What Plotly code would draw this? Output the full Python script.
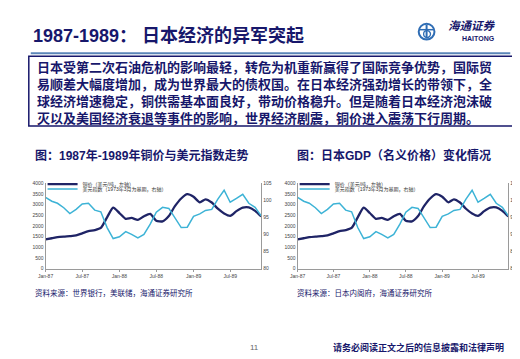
import plotly.graph_objects as go

W, H = 520, 359

months = ["1987-01","1987-02","1987-03","1987-04","1987-05","1987-06","1987-07","1987-08","1987-09","1987-10","1987-11","1987-12",
          "1988-01","1988-02","1988-03","1988-04","1988-05","1988-06","1988-07","1988-08","1988-09","1988-10","1988-11","1988-12",
          "1989-01","1989-02","1989-03","1989-04","1989-05","1989-06","1989-07","1989-08","1989-09","1989-10","1989-11","1989-12"]

copper_price = [1370, 1420, 1470, 1500, 1520, 1550, 1650, 1750, 1800, 1900, 2400, 2850,
                2600, 2330, 2370, 2280, 2450, 2560, 2240, 2210, 2460, 2920, 3280, 3480,
                3360, 3100, 3240, 3090, 2800, 2580, 2470, 2690, 2850, 2860, 2700, 2440]

dollar_index = [100.8, 99.7, 99.1, 97.8, 96.1, 97.3, 98.9, 99.1, 97.1, 96.6, 92.0, 88.8,
                89.3, 90.8, 90.0, 89.0, 90.0, 93.0, 96.5, 97.9, 97.6, 94.7, 92.0, 92.1,
                95.3, 96.0, 97.0, 97.3, 100.3, 102.9, 99.4, 100.5, 101.7, 99.1, 97.9, 95.4]

name_copper = "铜价（美元/吨，左轴）"
name_dollar = "美元指数（1973年3月为基期，右轴）"

left_ticks = [0, 500, 1000, 1500, 2000, 2500, 3000, 3500, 4000]
right_ticks = [80, 85, 90, 95, 100, 105]
x_ticks = ["1987-01", "1987-07", "1988-01", "1988-07", "1989-01", "1989-07"]
x_ticklabels = ["Jan-87", "Jul-87", "Jan-88", "Jul-88", "Jan-89", "Jul-89"]

title = "1987-1989： 日本经济的异军突起"
body_lines = [
    "日本受第二次石油危机的影响最轻，转危为机重新赢得了国际竞争优势，国际贸",
    "易顺差大幅度增加，成为世界最大的债权国。在日本经济强劲增长的带领下，全",
    "球经济增速稳定，铜供需基本面良好，带动价格稳升。但是随着日本经济泡沫破",
    "灭以及美国经济衰退等事件的影响，世界经济剧震，铜价进入震荡下行周期。",
]
chart_titles = ["图：1987年-1989年铜价与美元指数走势", "图：日本GDP（名义价格）变化情况"]
sources = ["资料来源：世界银行，美联储，海通证券研究所", "资料来源：日本内阁府，海通证券研究所"]
footer = "请务必阅读正文之后的信息披露和法律声明"
page_no = "11"

NAVY = "#17176b"
C_COPPER = "#1f2466"
C_DOLLAR = "#3db3d6"
FONT = "Liberation Sans, Noto Sans CJK SC, sans-serif"
CJK = "Noto Sans CJK SC, sans-serif"

def px(x):
    return x / W

def py(y):
    return 1 - y / H

fig = go.Figure()

panels = [("x", "y", "y2", 30, 249, "legend", "legend2"),
          ("x2", "y3", "y4", 286, 500, "legend3", "legend4")]

for xa, yl, yr, l, r, lg1, lg2 in panels:
    fig.add_trace(go.Scatter(x=months, y=copper_price, mode="lines", name=name_copper,
                             line=dict(color=C_COPPER, width=2.3, shape="spline", smoothing=0.6),
                             xaxis=xa, yaxis=yl, legend=lg1))
    fig.add_trace(go.Scatter(x=months, y=dollar_index, mode="lines", name=name_dollar,
                             line=dict(color=C_DOLLAR, width=1.5),
                             xaxis=xa, yaxis=yr, legend=lg2))

top, bot = 175, 262
axis_common = dict(showgrid=False, zeroline=False, showline=True, linecolor="#9a9a9a", linewidth=1,
                   ticks="outside", ticklen=2, tickcolor="#9a9a9a",
                   tickfont=dict(size=5, color="#444", family=FONT))

layout_axes = {}
for xa, yl, yr, l, r, lg1, lg2 in panels:
    xkey = "xaxis" if xa == "x" else "xaxis2"
    ylkey = "yaxis" if yl == "y" else "yaxis" + yl[1:]
    yrkey = "yaxis" + yr[1:]
    layout_axes[xkey] = dict(axis_common, domain=[px(l), px(r)], anchor=yl, type="date",
                             range=["1987-01-01", "1989-12-01"],
                             tickvals=x_ticks, ticktext=x_ticklabels)
    layout_axes[ylkey] = dict(axis_common, domain=[py(bot), py(top)], anchor=xa, range=[0, 4000],
                              tickvals=left_ticks, ticklen=0)
    layout_axes[yrkey] = dict(axis_common, domain=[py(bot), py(top)], anchor=xa, overlaying=yl,
                              side="right", range=[80, 105], tickvals=right_ticks, ticklen=0)

fig.update_layout(**layout_axes)

legend_pos = {"legend": (27, 176), "legend2": (27, 181), "legend3": (283, 176), "legend4": (283, 181)}
for k, (lx, ly) in legend_pos.items():
    fig.update_layout(**{k: dict(x=px(lx), y=py(ly), xanchor="left", yanchor="middle",
                                 bgcolor="rgba(0,0,0,0)", borderwidth=0,
                                 font=dict(size=5, color="#333", family=FONT),
                                 itemwidth=30, tracegroupgap=0)})

shapes = []
annotations = []

annotations.append(dict(text="<b>" + title + "</b>", x=px(15), y=py(25), xref="paper", yref="paper",
                        xanchor="left", yanchor="middle", showarrow=False,
                        font=dict(size=18, color=NAVY, family=FONT)))
shapes.append(dict(type="line", xref="paper", yref="paper", x0=px(15), x1=px(502), y0=py(43), y1=py(43),
                   line=dict(color="#5b86b8", width=2)))

# logo
LB = "#2f6db4"
shapes.append(dict(type="circle", xref="paper", yref="paper", x0=px(409), x1=px(425), y0=py(29), y1=py(13),
                   line=dict(color=LB, width=2)))
shapes.append(dict(type="line", xref="paper", yref="paper", x0=px(417), x1=px(417), y0=py(28), y1=py(14),
                   line=dict(color=LB, width=2)))
shapes.append(dict(type="line", xref="paper", yref="paper", x0=px(410), x1=px(424), y0=py(19), y1=py(19),
                   line=dict(color=LB, width=1.5)))
shapes.append(dict(type="circle", xref="paper", yref="paper", x0=px(414), x1=px(421), y0=py(27), y1=py(20),
                   line=dict(color=LB, width=1.3)))
annotations.append(dict(text="<i><b>海通证券</b></i>", x=px(463), y=py(14), xref="paper", yref="paper",
                        xanchor="center", yanchor="middle", showarrow=False,
                        font=dict(size=11.5, color=NAVY, family=CJK)))
annotations.append(dict(text="<b>HAITONG</b>", x=px(470), y=py(28), xref="paper", yref="paper",
                        xanchor="center", yanchor="middle", showarrow=False,
                        font=dict(size=7, color=NAVY, family=FONT)))

# text box
shapes.append(dict(type="rect", xref="paper", yref="paper", x0=px(13), x1=px(505), y0=py(117), y1=py(46),
                   line=dict(color=NAVY, width=1.5), fillcolor="rgba(0,0,0,0)"))
annotations.append(dict(text="<br>".join("<b>" + s + "</b>" for s in body_lines),
                        x=px(19), y=py(82), xref="paper", yref="paper",
                        xanchor="left", yanchor="middle", align="left", showarrow=False,
                        font=dict(size=13, color=NAVY, family=CJK)))

for i, (t, s) in enumerate(zip(chart_titles, sources)):
    x0 = 17 if i == 0 else 283
    annotations.append(dict(text="<b>" + t + "</b>", x=px(x0), y=py(147), xref="paper", yref="paper",
                            xanchor="left", yanchor="middle", showarrow=False,
                            font=dict(size=12, color=NAVY, family=FONT)))
    annotations.append(dict(text=s, x=px(x0), y=py(286), xref="paper", yref="paper",
                            xanchor="left", yanchor="middle", showarrow=False,
                            font=dict(size=7.5, color=NAVY, family=CJK)))

annotations.append(dict(text=page_no, x=px(242), y=py(342), xref="paper", yref="paper",
                        xanchor="center", yanchor="middle", showarrow=False,
                        font=dict(size=8, color="#666", family=FONT)))
annotations.append(dict(text="<b>" + footer + "</b>", x=px(498), y=py(342), xref="paper", yref="paper",
                        xanchor="right", yanchor="middle", showarrow=False,
                        font=dict(size=9, color=NAVY, family=CJK)))

fig.update_layout(width=W, height=H, autosize=False, margin=dict(l=0, r=0, t=0, b=0),
                  paper_bgcolor="white", plot_bgcolor="white", showlegend=True,
                  shapes=shapes, annotations=annotations)

fig.write_html("out.html")
